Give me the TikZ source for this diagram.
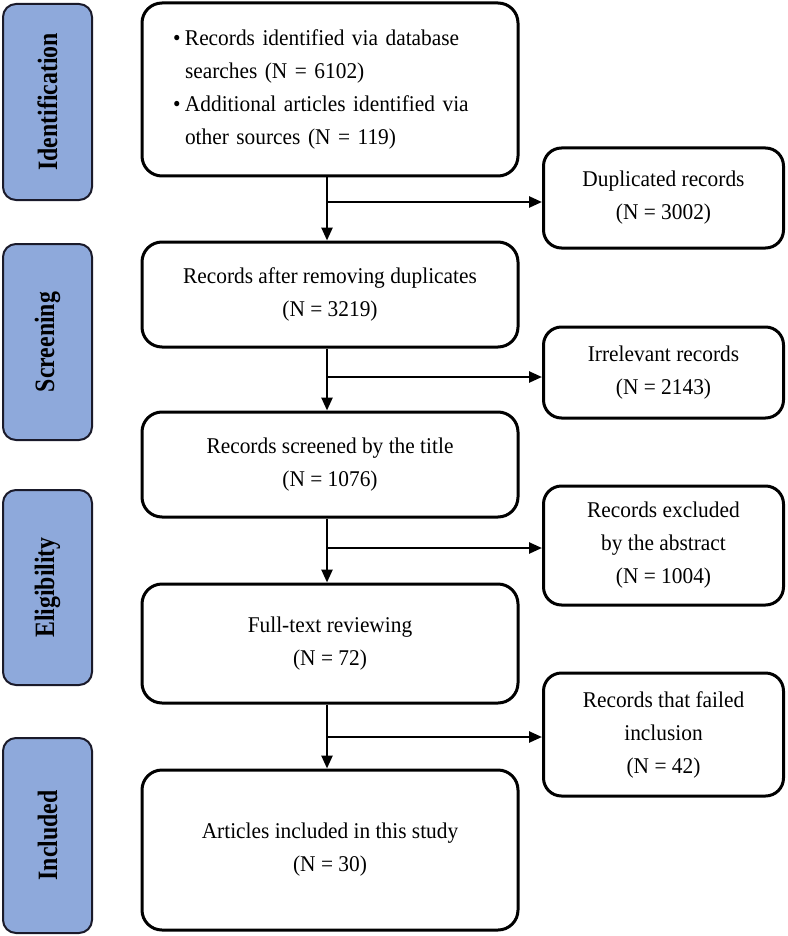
\documentclass[tikz,border=0pt]{standalone}
\usepackage{fontspec}
\setmainfont{Liberation Serif}[FakeStretch=0.95]
\newfontfamily\stagefont{Liberation Serif}[FakeStretch=0.85]
\usetikzlibrary{arrows.meta}
\definecolor{stageblue}{HTML}{8EA9DB}
\definecolor{stageedge}{HTML}{1A1A2A}
\begin{document}
\begin{tikzpicture}[x=1pt,y=-1pt,
  mainbox/.style={draw=black, line width=3pt, rounded corners=20pt, fill=white,
    inner sep=0pt, align=center, font=\fontsize{22.5}{33}\selectfont},
  sidebox/.style={draw=black, line width=3pt, rounded corners=18pt, fill=white,
    inner sep=0pt, align=center, minimum width=240pt, font=\fontsize{22.5}{33}\selectfont},
  stagebox/.style={draw=stageedge, line width=2pt, rounded corners=13pt, fill=stageblue,
    inner sep=0pt, minimum width=89pt, minimum height=195pt},
  stagetext/.style={rotate=90, font=\fontsize{28}{30}\stagefont\bfseries},
  arr/.style={line width=2.5pt, -{Triangle[length=13pt,width=11pt]}},
  ln/.style={line width=2.5pt}]
\useasboundingbox (0,0) rectangle (787,936);

% stage labels
\node[stagebox, minimum height=196pt] (sid) at (47.5,102) {};
\node[stagetext] (tid) at (sid.center) {Identification};
\node[stagebox, minimum height=196pt] (ssc) at (47.5,342) {};
\node[stagetext] (tsc) at (ssc.center) {Screening};
\node[stagebox] (sel) at (47.5,587.5) {};
\node[stagetext] (tel) at (sel.center) {Eligibility};
\node[stagebox] (sin) at (47.5,835.5) {};
\node[stagetext] (tin) at (sin.center) {Included};

% main column
\node[mainbox, minimum height=173pt, text width=314pt, inner xsep=31pt, align=left] (b1) at (330,89.5)
  {\makebox[12pt][l]{\textbullet}Records identified via database\\
   \hspace*{12pt}searches (N = 6102)\\
   \makebox[12pt][l]{\textbullet}Additional articles identified via\\
   \hspace*{12pt}other sources (N = 119)};
\node[mainbox, minimum width=376pt, minimum height=105pt] (b2) at (330,294.5)
  {Records after removing duplicates\\(N = 3219)};
\node[mainbox, minimum width=376pt, minimum height=105pt] (b3) at (330,464.5)
  {Records screened by the title\\(N = 1076)};
\node[mainbox, minimum width=376pt, minimum height=119pt] (b4) at (330,643.5)
  {Full-text reviewing\\(N = 72)};
\node[mainbox, minimum width=376pt, minimum height=160pt] (b5) at (330,850)
  {Articles included in this study\\(N = 30)};

% side column
\node[sidebox, minimum height=100pt] (dup) at (663.5,198) {Duplicated records\\(N = 3002)};
\node[sidebox, minimum height=91pt] (irr) at (663.5,372.5) {Irrelevant records\\(N = 2143)};
\node[sidebox, minimum height=119pt] (exc) at (663.5,545.5) {Records excluded\\by the abstract\\(N = 1004)};
\node[sidebox, minimum height=123pt] (fail) at (663.5,734.5) {Records that failed\\inclusion\\(N = 42)};

% junctions
\coordinate (j1) at (327,202);
\coordinate (j2) at (327,377);
\coordinate (j3) at (327,548);
\coordinate (j4) at (327,737);

\draw[arr] (b1.south -| j1) -- (b2.north -| j1);
\draw[arr] (j1) -- (j1 -| dup.west);
\draw[arr] (b2.south -| j2) -- (b3.north -| j2);
\draw[arr] (j2) -- (j2 -| irr.west);
\draw[arr] (b3.south -| j3) -- (b4.north -| j3);
\draw[arr] (j3) -- (j3 -| exc.west);
\draw[arr] (b4.south -| j4) -- (b5.north -| j4);
\draw[arr] (j4) -- (j4 -| fail.west);
\end{tikzpicture}
\end{document}
